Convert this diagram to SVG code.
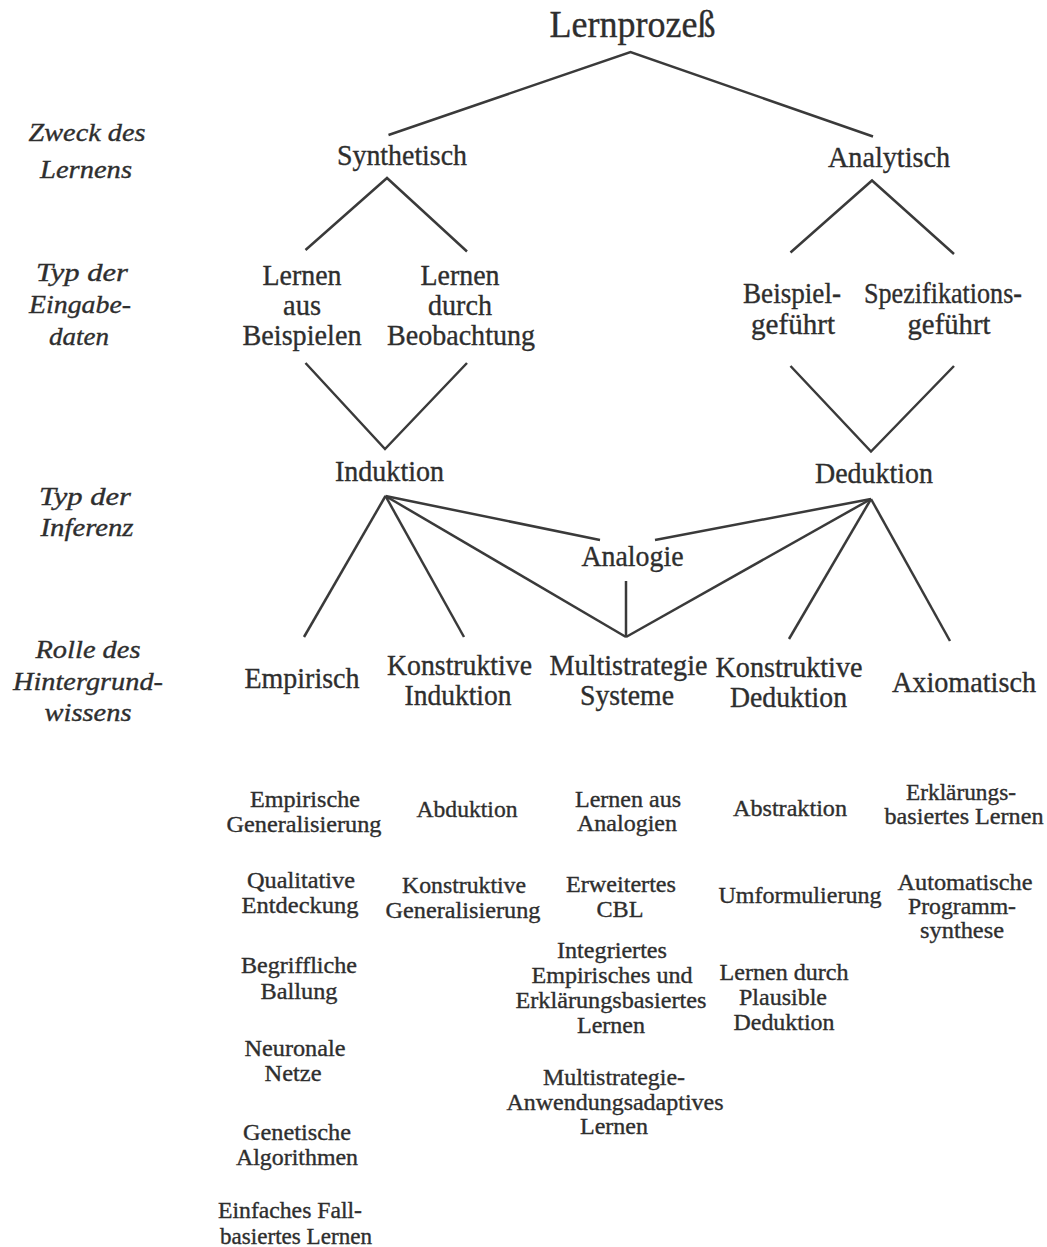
<svg xmlns="http://www.w3.org/2000/svg" width="1047" height="1247" viewBox="0 0 1047 1247">
<style>
text{font-family:"Liberation Serif","Times New Roman",serif;fill:#2e2e2e;stroke:#2e2e2e;stroke-width:0.35;text-anchor:middle}
.t{font-size:38px}
.m{font-size:30px}
.s{font-size:23px}
.l{font-size:26px;font-style:italic}
.c{fill:none;stroke:#3a3a3a;stroke-width:2.5;stroke-linejoin:miter;stroke-linecap:butt}
</style>
<rect width="1047" height="1247" fill="#fff"/>
<g id="connectors" class="c">
<polyline points="388.5,135 630.5,52 873,136.5"/>
<polyline points="305.5,250 387,178 467,251.5"/>
<polyline points="790.5,252.5 872,180.5 954,254"/>
<polyline points="305.5,363 385,449 467,363"/>
<polyline points="790.5,366 871,451.5 954,366"/>
<line x1="385.5" y1="496" x2="304" y2="637"/>
<line x1="385.5" y1="496" x2="464" y2="637"/>
<line x1="385.5" y1="496" x2="626" y2="637"/>
<line x1="385.5" y1="496" x2="600" y2="540"/>
<line x1="871" y1="499" x2="655" y2="540"/>
<line x1="871" y1="499" x2="626" y2="637"/>
<line x1="871" y1="499" x2="789" y2="639"/>
<line x1="871" y1="499" x2="950" y2="641"/>
<line x1="626" y1="581" x2="626" y2="637"/>
</g>
<g id="labels">
<text class="l" x="87" y="141" textLength="117" lengthAdjust="spacingAndGlyphs">Zweck des</text>
<text class="l" x="86" y="178" textLength="92" lengthAdjust="spacingAndGlyphs">Lernens</text>
<text class="l" x="82" y="281" textLength="92" lengthAdjust="spacingAndGlyphs">Typ der</text>
<text class="l" x="80" y="313" textLength="102" lengthAdjust="spacingAndGlyphs">Eingabe-</text>
<text class="l" x="79" y="345" textLength="60" lengthAdjust="spacingAndGlyphs">daten</text>
<text class="l" x="85" y="505" textLength="92" lengthAdjust="spacingAndGlyphs">Typ der</text>
<text class="l" x="87" y="536" textLength="93" lengthAdjust="spacingAndGlyphs">Inferenz</text>
<text class="l" x="88" y="658" textLength="105" lengthAdjust="spacingAndGlyphs">Rolle des</text>
<text class="l" x="88" y="690" textLength="150" lengthAdjust="spacingAndGlyphs">Hintergrund-</text>
<text class="l" x="88" y="721" textLength="87" lengthAdjust="spacingAndGlyphs">wissens</text>
</g>
<g id="lernprozess"><text class="t" x="632.5" y="37" textLength="166" lengthAdjust="spacingAndGlyphs">Lernprozeß</text></g>
<g id="synthetisch"><text class="m" x="402" y="165" textLength="130" lengthAdjust="spacingAndGlyphs">Synthetisch</text></g>
<g id="analytisch"><text class="m" x="889" y="167" textLength="122" lengthAdjust="spacingAndGlyphs">Analytisch</text></g>
<g id="lernen-aus-beispielen">
<text class="m" x="302" y="285" textLength="79" lengthAdjust="spacingAndGlyphs">Lernen</text>
<text class="m" x="302" y="315" textLength="38" lengthAdjust="spacingAndGlyphs">aus</text>
<text class="m" x="302" y="345" textLength="119" lengthAdjust="spacingAndGlyphs">Beispielen</text>
</g>
<g id="lernen-durch-beobachtung">
<text class="m" x="460" y="285" textLength="79" lengthAdjust="spacingAndGlyphs">Lernen</text>
<text class="m" x="460" y="315" textLength="64" lengthAdjust="spacingAndGlyphs">durch</text>
<text class="m" x="461" y="345" textLength="148" lengthAdjust="spacingAndGlyphs">Beobachtung</text>
</g>
<g id="beispielgefuehrt">
<text class="m" x="792" y="303" textLength="98" lengthAdjust="spacingAndGlyphs">Beispiel-</text>
<text class="m" x="793" y="334" textLength="84" lengthAdjust="spacingAndGlyphs">geführt</text>
</g>
<g id="spezifikationsgefuehrt">
<text class="m" x="943" y="303" textLength="158" lengthAdjust="spacingAndGlyphs">Spezifikations-</text>
<text class="m" x="949" y="334" textLength="83" lengthAdjust="spacingAndGlyphs">geführt</text>
</g>
<g id="induktion"><text class="m" x="389.5" y="481" textLength="109" lengthAdjust="spacingAndGlyphs">Induktion</text></g>
<g id="deduktion"><text class="m" x="874" y="483" textLength="118" lengthAdjust="spacingAndGlyphs">Deduktion</text></g>
<g id="analogie"><text class="m" x="632.5" y="566" textLength="102" lengthAdjust="spacingAndGlyphs">Analogie</text></g>
<g id="empirisch"><text class="m" x="302" y="688" textLength="115" lengthAdjust="spacingAndGlyphs">Empirisch</text></g>
<g id="konstruktive-induktion">
<text class="m" x="459.5" y="675" textLength="145" lengthAdjust="spacingAndGlyphs">Konstruktive</text>
<text class="m" x="458" y="705" textLength="107" lengthAdjust="spacingAndGlyphs">Induktion</text>
</g>
<g id="multistrategie-systeme">
<text class="m" x="628.5" y="675" textLength="158" lengthAdjust="spacingAndGlyphs">Multistrategie</text>
<text class="m" x="627" y="705" textLength="94" lengthAdjust="spacingAndGlyphs">Systeme</text>
</g>
<g id="konstruktive-deduktion">
<text class="m" x="789" y="677" textLength="147" lengthAdjust="spacingAndGlyphs">Konstruktive</text>
<text class="m" x="788.5" y="707" textLength="117" lengthAdjust="spacingAndGlyphs">Deduktion</text>
</g>
<g id="axiomatisch"><text class="m" x="964" y="692" textLength="144" lengthAdjust="spacingAndGlyphs">Axiomatisch</text></g>
<g id="col1">
<text class="s" x="305" y="807" textLength="110" lengthAdjust="spacingAndGlyphs">Empirische</text>
<text class="s" x="304" y="832" textLength="155" lengthAdjust="spacingAndGlyphs">Generalisierung</text>
<text class="s" x="301" y="888" textLength="108" lengthAdjust="spacingAndGlyphs">Qualitative</text>
<text class="s" x="300" y="913" textLength="117" lengthAdjust="spacingAndGlyphs">Entdeckung</text>
<text class="s" x="299" y="973" textLength="116" lengthAdjust="spacingAndGlyphs">Begriffliche</text>
<text class="s" x="299" y="999" textLength="77" lengthAdjust="spacingAndGlyphs">Ballung</text>
<text class="s" x="295" y="1056" textLength="101" lengthAdjust="spacingAndGlyphs">Neuronale</text>
<text class="s" x="293" y="1081" textLength="57" lengthAdjust="spacingAndGlyphs">Netze</text>
<text class="s" x="297" y="1140" textLength="108" lengthAdjust="spacingAndGlyphs">Genetische</text>
<text class="s" x="297" y="1165" textLength="122" lengthAdjust="spacingAndGlyphs">Algorithmen</text>
<text class="s" x="290" y="1218" textLength="144" lengthAdjust="spacingAndGlyphs">Einfaches Fall-</text>
<text class="s" x="296" y="1244" textLength="152" lengthAdjust="spacingAndGlyphs">basiertes Lernen</text>
</g>
<g id="col2">
<text class="s" x="467" y="817" textLength="101" lengthAdjust="spacingAndGlyphs">Abduktion</text>
<text class="s" x="464" y="893" textLength="124" lengthAdjust="spacingAndGlyphs">Konstruktive</text>
<text class="s" x="463" y="918" textLength="155" lengthAdjust="spacingAndGlyphs">Generalisierung</text>
</g>
<g id="col3">
<text class="s" x="628" y="807" textLength="106" lengthAdjust="spacingAndGlyphs">Lernen aus</text>
<text class="s" x="627" y="831" textLength="100" lengthAdjust="spacingAndGlyphs">Analogien</text>
<text class="s" x="621" y="892" textLength="110" lengthAdjust="spacingAndGlyphs">Erweitertes</text>
<text class="s" x="620" y="917" textLength="47" lengthAdjust="spacingAndGlyphs">CBL</text>
<text class="s" x="612" y="958" textLength="110" lengthAdjust="spacingAndGlyphs">Integriertes</text>
<text class="s" x="612" y="983" textLength="161" lengthAdjust="spacingAndGlyphs">Empirisches und</text>
<text class="s" x="611" y="1008" textLength="191" lengthAdjust="spacingAndGlyphs">Erklärungsbasiertes</text>
<text class="s" x="611" y="1033" textLength="68" lengthAdjust="spacingAndGlyphs">Lernen</text>
<text class="s" x="614" y="1085" textLength="142" lengthAdjust="spacingAndGlyphs">Multistrategie-</text>
<text class="s" x="615" y="1110" textLength="217" lengthAdjust="spacingAndGlyphs">Anwendungsadaptives</text>
<text class="s" x="614" y="1134" textLength="68" lengthAdjust="spacingAndGlyphs">Lernen</text>
</g>
<g id="col4">
<text class="s" x="790" y="816" textLength="114" lengthAdjust="spacingAndGlyphs">Abstraktion</text>
<text class="s" x="800" y="903" textLength="163" lengthAdjust="spacingAndGlyphs">Umformulierung</text>
<text class="s" x="784" y="980" textLength="129" lengthAdjust="spacingAndGlyphs">Lernen durch</text>
<text class="s" x="783" y="1005" textLength="88" lengthAdjust="spacingAndGlyphs">Plausible</text>
<text class="s" x="784" y="1030" textLength="101" lengthAdjust="spacingAndGlyphs">Deduktion</text>
</g>
<g id="col5">
<text class="s" x="961" y="800" textLength="110" lengthAdjust="spacingAndGlyphs">Erklärungs-</text>
<text class="s" x="964" y="824" textLength="159" lengthAdjust="spacingAndGlyphs">basiertes Lernen</text>
<text class="s" x="965" y="890" textLength="135" lengthAdjust="spacingAndGlyphs">Automatische</text>
<text class="s" x="962" y="914" textLength="108" lengthAdjust="spacingAndGlyphs">Programm-</text>
<text class="s" x="962" y="938" textLength="84" lengthAdjust="spacingAndGlyphs">synthese</text>
</g>
</svg>
